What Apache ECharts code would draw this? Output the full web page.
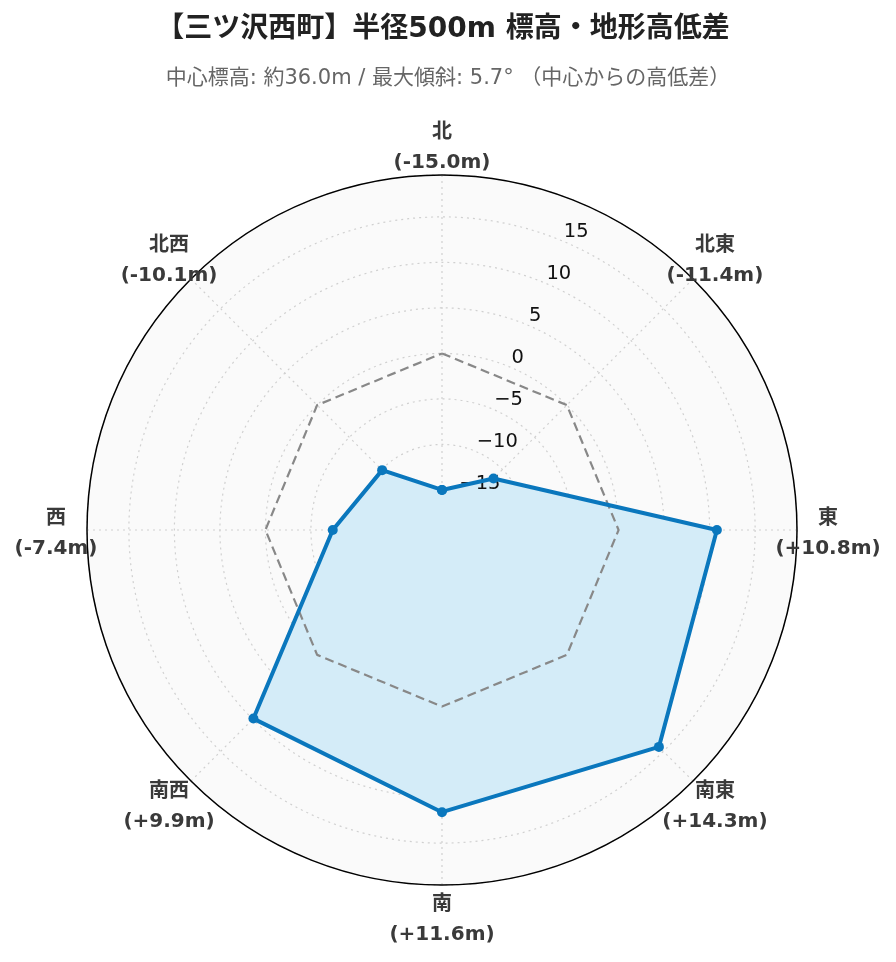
<!DOCTYPE html>
<html>
<head>
<meta charset="utf-8">
<script src="https://cdn.jsdelivr.net/npm/echarts@6/dist/echarts.min.js"></script>
<style>
html,body{margin:0;padding:0;background:#fff;}
#chart{width:896px;height:962px;}
</style>
</head>
<body>
<div id="chart"></div>
<script>
// ---- data ----
const directions = ['北', '北東', '東', '南東', '南', '南西', '西', '北西'];
const angles = [0, 45, 90, 135, 180, 225, 270, 315];
const diffs = [-15.0, -11.4, 10.8, 14.3, 11.6, 9.9, -7.4, -10.1];
const baseline = [0, 0, 0, 0, 0, 0, 0, 0];
const radialTicks = [-15, -10, -5, 0, 5, 10, 15];
const titleText = '【三ツ沢西町】半径500m 標高・地形高低差';
const subtitleText = '中心標高: 約36.0m / 最大傾斜: 5.7° （中心からの高低差）';

const FONT = "'DejaVu Sans', 'Noto Sans CJK JP', sans-serif";
const RMIN = -19.4, RMAX = 19.6;
const CENTER = [442, 530], RADIUS = 355;
const LABEL_GAP = 31;
const TICK_ANGLE = 22.5;

function closed(vals) {
  const pts = vals.map((v, i) => [v, angles[i]]);
  pts.push([vals[0], 360]);
  return pts;
}
function fmtDiff(v) {
  return (v > 0 ? '+' : v < 0 ? '-' : '') + Math.abs(v).toFixed(1);
}
const labelPoints = angles.map((a, i) => {
  const rad = a * Math.PI / 180;
  return {
    value: [RMAX, a],
    name: directions[i] + '\n(' + fmtDiff(diffs[i]) + 'm)',
    label: {offset: [LABEL_GAP * Math.sin(rad), -LABEL_GAP * Math.cos(rad) + 3.5]}
  };
});
const tickPoints = radialTicks.map(v => ({
  value: [v, TICK_ANGLE],
  name: String(v).replace('-', '\u2212')
}));

const gridLine = {color: '#d0d0d0', type: [2, 4], width: 1.2};

const chart = echarts.init(document.getElementById('chart'), null, {renderer: 'canvas'});
chart.setOption({
  backgroundColor: '#ffffff',
  animation: false,
  title: [
    {text: titleText, left: 438, textAlign: 'center', top: 11,
     textStyle: {fontFamily: FONT, fontSize: 28, fontWeight: 'bold', color: '#222'}},
    {text: subtitleText, left: 'center', top: 63,
     textStyle: {fontFamily: FONT, fontSize: 21, fontWeight: 'normal', color: '#666'}}
  ],
  polar: [
    {center: CENTER, radius: RADIUS},
    {center: CENTER, radius: RADIUS}
  ],
  angleAxis: [
    {
      polarIndex: 0, type: 'value', min: 0, max: 360, interval: 45,
      startAngle: 90, clockwise: true,
      axisLine: {show: false},
      axisTick: {show: false},
      axisLabel: {show: false},
      splitLine: {show: true, lineStyle: gridLine}
    },
    {
      polarIndex: 1, type: 'value', min: 0, max: 360, startAngle: 90, clockwise: true,
      axisLine: {show: true, lineStyle: {color: '#000', width: 1.5}},
      axisTick: {show: false}, axisLabel: {show: false}, splitLine: {show: false}
    }
  ],
  radiusAxis: [
    {
      polarIndex: 0, type: 'value', min: RMIN, max: RMAX, splitNumber: 8,
      axisLine: {show: false}, axisTick: {show: false}, axisLabel: {show: false},
      splitLine: {show: false},
      splitArea: {show: true, areaStyle: {color: ['#fafafa']}}
    },
    {
      polarIndex: 1, type: 'value', min: RMIN, max: RMAX, splitNumber: 8,
      axisLine: {show: false}, axisTick: {show: false}, axisLabel: {show: false},
      splitLine: {show: true, lineStyle: gridLine}
    }
  ],
  series: [
    {
      name: 'fill', type: 'line', coordinateSystem: 'polar', polarIndex: 0,
      data: closed(diffs), symbol: 'none', silent: true,
      lineStyle: {width: 0, opacity: 0},
      areaStyle: {color: '#d4ecf8', opacity: 1, origin: 'start'},
      z: 2
    },
    {
      name: 'base', type: 'line', coordinateSystem: 'polar', polarIndex: 0,
      data: closed(baseline), symbol: 'none', silent: true,
      lineStyle: {color: '#888', width: 2.2, type: [9, 5]},
      z: 3
    },
    {
      name: 'ticks', type: 'scatter', coordinateSystem: 'polar', polarIndex: 0,
      data: tickPoints, symbolSize: 0, silent: true, clip: false,
      itemStyle: {color: '#111', opacity: 1},
      label: {
        show: true, position: 'inside', formatter: '{b}', offset: [2, -9],
        fontFamily: FONT, fontSize: 19.5, color: '#111', opacity: 1,
        textBorderWidth: 0, textBorderColor: 'transparent',
        align: 'left', verticalAlign: 'middle'
      },
      z: 3
    },
    {
      name: 'diff', type: 'line', coordinateSystem: 'polar', polarIndex: 0,
      data: closed(diffs), symbol: 'circle', symbolSize: 10, showAllSymbol: true,
      lineStyle: {color: '#0a77bd', width: 4},
      itemStyle: {color: '#0a77bd'},
      z: 4
    },
    {
      name: 'dirLabels', type: 'scatter', coordinateSystem: 'polar', polarIndex: 0,
      data: labelPoints, symbolSize: 0, silent: true, clip: false,
      itemStyle: {color: '#333', opacity: 1},
      label: {
        show: true, position: 'inside', formatter: '{b}',
        fontFamily: FONT, fontSize: 20, fontWeight: 'bold', color: '#3a3a3a', lineHeight: 30, opacity: 1,
        textBorderWidth: 0, textBorderColor: 'transparent',
        align: 'center', verticalAlign: 'middle'
      },
      z: 5
    }
  ]
});
</script>
</body>
</html>
